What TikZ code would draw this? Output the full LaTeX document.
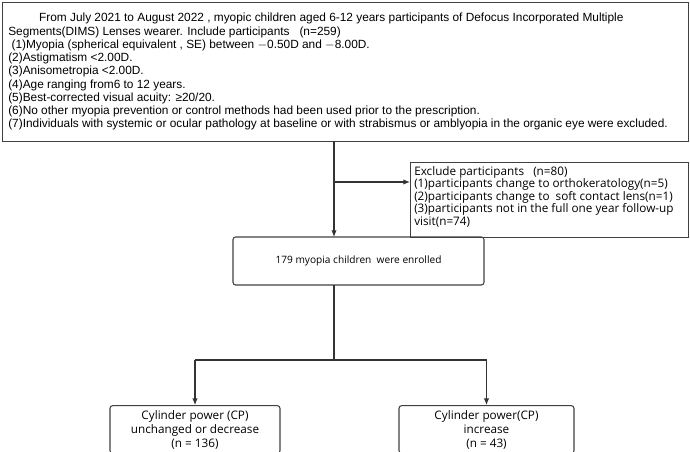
\documentclass[tikz,border=0pt]{standalone}
\usepackage{fontspec}
\setmainfont{Liberation Sans}
\newfontfamily\boxfont{Open Sans}
\usetikzlibrary{arrows.meta,positioning}

\begin{document}
\begin{tikzpicture}[x=0.75pt, y=-0.75pt,
    info/.style={draw=black!75, thick, inner sep=0pt},
    stage/.style={draw=black!75, thick, rounded corners=2pt, font=\boxfont\fontsize{8.8}{10.5}\selectfont, align=center},
    arr/.style={-{Latex[length=5pt,width=4pt]}, black!80, line width=0.8pt}
]
    \useasboundingbox (0,0) rectangle (690,452);

    % inclusion box
    \node[info, minimum width=686*0.75pt, minimum height=139*0.75pt, anchor=north west] (incl) at (2,2) {};
    \node[anchor=north west, align=left, inner sep=0pt, font=\fontsize{8.9}{9.95}\selectfont] (incltxt) at (8,13) {%
        \hspace*{2.6em}From July 2021 to August 2022 , myopic children aged 6-12 years participants of Defocus Incorporated Multiple\\
        Segments(DIMS) Lenses wearer. Include participants \ \ (n=259)\\
        \ (1)Myopia (spherical equivalent , SE) between $-$0.50D and $-$8.00D.\\
        (2)Astigmatism <2.00D.\\
        (3)Anisometropia <2.00D.\\
        (4)Age ranging from6 to 12 years.\\
        (5)Best-corrected visual acuity: ≥20/20.\\
        (6)No other myopia prevention or control methods had been used prior to the prescription.\\
        (7)Individuals with systemic or ocular pathology at baseline or with strabismus or amblyopia in the organic eye were excluded.};

    % exclusion box
    \node[info, minimum width=278*0.75pt, minimum height=75*0.75pt, anchor=north west] (excl) at (410,162) {};
    \node[anchor=north west, align=left, inner sep=0pt, font=\boxfont\fontsize{8.8}{9.4}\selectfont] (excltxt) at (414,166) {%
        Exclude participants \ \ (n=80)\\
        (1)participants change to orthokeratology(n=5)\\
        (2)participants change to \ soft contact lens(n=1)\\
        (3)participants not in the full one year follow-up\\
        visit(n=74)};

    % enrolled and groups
    \node[stage, font=\boxfont\fontsize{7.6}{9.5}\selectfont, minimum width=251*0.75pt, minimum height=48*0.75pt] (enrol) at (358.5,261) {179 myopia children \ were enrolled};
    \node[stage, minimum width=170*0.75pt, minimum height=45*0.75pt] (cpsame) at (195,429.5) {Cylinder power (CP)\\unchanged or decrease\\(n = 136)};
    \node[stage, minimum width=175*0.75pt, minimum height=45*0.75pt] (cpup) at (486.5,429.5) {Cylinder power(CP)\\increase\\(n = 43)};

    \coordinate (split) at (334,182);
    \coordinate (fork) at (334,360);

    \draw[arr] (334,141) -- (334,237);
    \draw[arr] (split) -- (excl.west |- split);
    \draw[black!80, line width=2pt] (334,285) -- (fork);
    \draw[black!80, line width=0.8pt] (195,360) -- (486.5,360);
    \draw[arr] (195,360) -- (cpsame.north);
    \draw[arr] (486.5,360) -- (cpup.north);
\end{tikzpicture}
\end{document}
